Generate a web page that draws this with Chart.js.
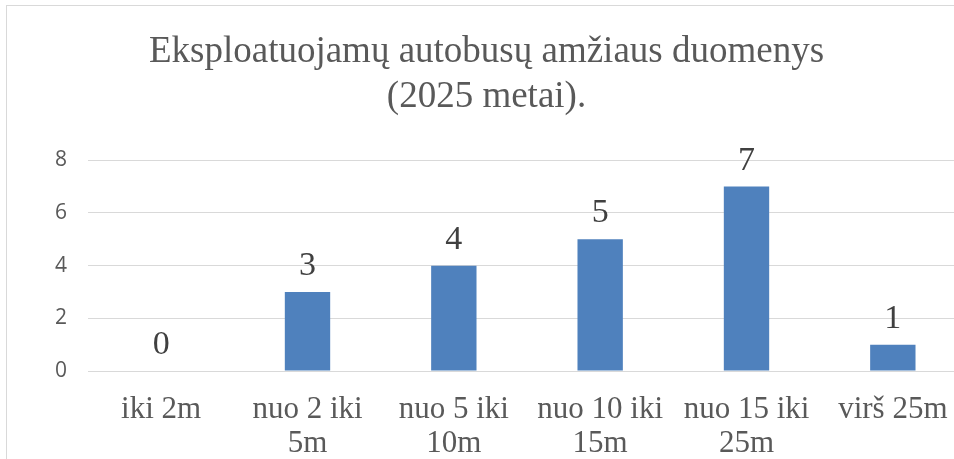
<!DOCTYPE html>
<html>
<head>
<meta charset="utf-8">
<script src="https://cdn.jsdelivr.net/npm/chart.js@4.4.1/dist/chart.umd.min.js"></script>
<style>
  html, body { margin: 0; padding: 0; background: #fff; overflow: hidden; }
  #frame { position: absolute; left: 6px; top: 5px; width: 1000px; height: 480px;
           border: 1px solid #d9d9d9; background: #fff; }
  #myChart { position: absolute; left: 0; top: 0; }
</style>
</head>
<body>
<div id="frame"><canvas id="myChart" width="986" height="462"></canvas></div>
<script>
// chart data
var titleLines = ["Eksploatuojamų autobusų amžiaus duomenys", "(2025 metai)."];
var categories = [["iki 2m"], ["nuo 2 iki", "5m"], ["nuo 5 iki", "10m"], ["nuo 10 iki", "15m"], ["nuo 15 iki", "25m"], ["virš 25m"]];
var values = [0, 3, 4, 5, 7, 1];
var yTicks = [0, 2, 4, 6, 8];

var textColor = '#595959';
var serif = "'Liberation Serif', 'Times New Roman', serif";

// writes the value above each bar
var valueLabels = {
    id: 'valueLabels',
    afterDatasetsDraw: function (chart) {
        var ctx = chart.ctx;
        var meta = chart.getDatasetMeta(0);
        ctx.save();
        ctx.font = "34px " + serif;
        ctx.fillStyle = '#404040';
        ctx.textAlign = 'center';
        ctx.textBaseline = 'alphabetic';
        meta.data.forEach(function (bar, i) {
            ctx.fillText(String(values[i]), bar.x, bar.y - 17);
        });
        ctx.restore();
    }
};

var ctx = document.getElementById("myChart");
var myChart = new Chart(ctx, {
    type: 'bar',
    data: {
        labels: categories,
        datasets: [{
            data: values,
            backgroundColor: '#4f81bd',
            borderWidth: 0,
            barPercentage: 0.31,
            categoryPercentage: 1
        }]
    },
    options: {
        responsive: false,
        animation: false,
        layout: { padding: { top: 24, right: 27, bottom: 7, left: 0 } },
        plugins: {
            legend: { display: false },
            tooltip: { enabled: false },
            title: {
                display: true,
                text: titleLines,
                color: textColor,
                font: { family: serif, size: 37, weight: 'normal', lineHeight: 1.22 },
                padding: { top: 0, bottom: 40 }
            }
        },
        scales: {
            x: {
                grid: { display: false, drawTicks: false },
                border: { display: true, color: '#d9d9d9', width: 1 },
                ticks: {
                    color: textColor,
                    font: { family: serif, size: 31, lineHeight: 1.1 },
                    padding: 22,
                    maxRotation: 0,
                    autoSkip: false
                },
                afterFit: function (scale) { scale.height = 90; }
            },
            y: {
                min: 0,
                max: 8,
                afterBuildTicks: function (scale) {
                    scale.ticks = yTicks.map(function (v) { return { value: v }; });
                },
                grid: { color: '#d9d9d9', lineWidth: 1, drawTicks: false },
                border: { display: false },
                ticks: {
                    color: textColor,
                    font: { family: "'Open Sans', sans-serif", size: 21 },
                    padding: 21
                },
                afterFit: function (scale) { scale.width = 81; }
            }
        }
    },
    plugins: [valueLabels]
});
</script>
</body>
</html>
